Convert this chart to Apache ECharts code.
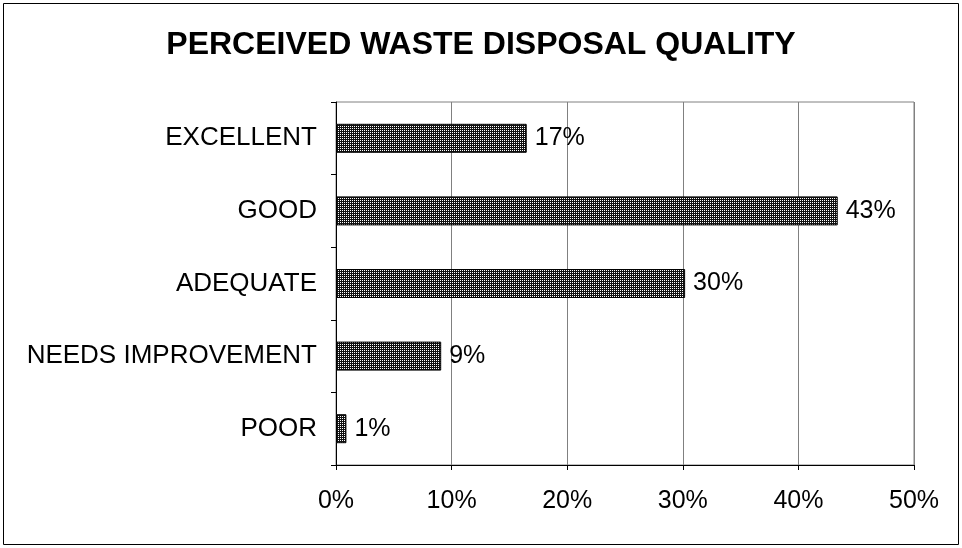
<!DOCTYPE html>
<html>
<head>
<meta charset="utf-8">
<script src="https://cdn.jsdelivr.net/npm/echarts@6/dist/echarts.min.js"></script>
<style>
  html, body { margin: 0; padding: 0; background: #fff; }
  #main { width: 962px; height: 548px; }
</style>
</head>
<body>
<div id="main"></div>
<script>
var categories = ['EXCELLENT', 'GOOD', 'ADEQUATE', 'NEEDS IMPROVEMENT', 'POOR'];
var values = [16.5, 43.4, 30.2, 9.1, 0.9];
var tickLabels = ['0%', '10%', '20%', '30%', '40%', '50%'];

// dotted fill like the original bars
function makePattern() {
    var c = document.createElement('canvas');
    c.width = 2;
    c.height = 2;
    var ctx = c.getContext('2d');
    ctx.fillStyle = '#111';
    ctx.fillRect(0, 0, 2, 2);
    ctx.fillStyle = '#fff';
    ctx.fillRect(0, 0, 1, 1);
    return c;
}

var chart = echarts.init(document.getElementById('main'));
var font = '"Liberation Sans", Arial, sans-serif';

var option = {
    animation: false,
    title: {
        text: 'PERCEIVED WASTE DISPOSAL QUALITY',
        left: 'center',
        top: 24,
        textStyle: { fontFamily: font, fontSize: 32, fontWeight: 'bold', color: '#000' }
    },
    graphic: [{
        type: 'rect',
        shape: { x: 3.5, y: 3.5, width: 955, height: 541 },
        style: { fill: null, stroke: '#000', lineWidth: 1 },
        z: -1
    }],
    grid: {
        left: 336,
        top: 102,
        right: 48,
        bottom: 83,
        show: true,
        borderColor: '#808080',
        borderWidth: 1
    },
    xAxis: {
        type: 'value',
        min: 0,
        max: 50,
        interval: 10,
        axisLine: { show: true, lineStyle: { color: '#000' } },
        axisTick: { show: true, length: 5, lineStyle: { color: '#000' } },
        splitLine: { show: true, lineStyle: { color: '#808080' } },
        axisLabel: {
            margin: 24,
            fontFamily: font,
            fontSize: 25,
            color: '#000',
            formatter: function (v) { return tickLabels[Math.round(v / 10)]; }
        }
    },
    yAxis: {
        type: 'category',
        data: categories,
        inverse: true,
        axisLine: { show: true, lineStyle: { color: '#000' } },
        axisTick: { show: true, length: 5, lineStyle: { color: '#000' } },
        axisLabel: { margin: 19, fontFamily: font, fontSize: 26, color: '#000' }
    },
    series: [{
        type: 'bar',
        data: values,
        barWidth: 29,
        itemStyle: {
            color: { image: makePattern(), repeat: 'repeat' },
            borderColor: '#000',
            borderWidth: 1
        },
        label: {
            show: true,
            position: 'right',
            distance: 8,
            fontFamily: font,
            fontSize: 25,
            color: '#000',
            formatter: function (p) { return Math.round(p.value) + '%'; }
        }
    }]
};
chart.setOption(option);
</script>
</body>
</html>
